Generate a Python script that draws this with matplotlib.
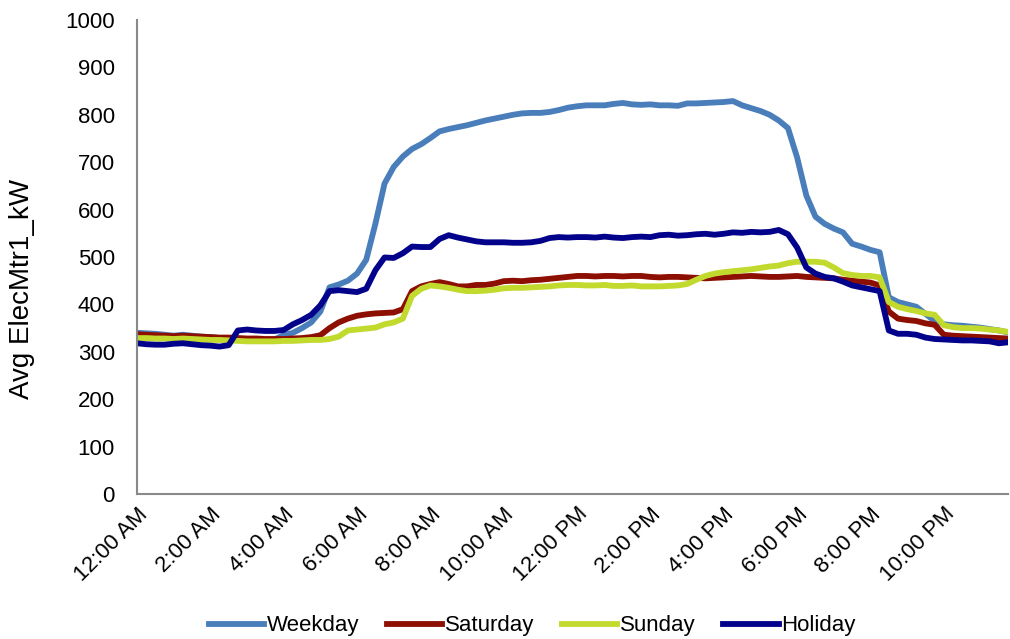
import numpy as np
import matplotlib
matplotlib.use("Agg")
import matplotlib.pyplot as plt

plt.rcParams['font.family'] = ['Liberation Sans', 'DejaVu Sans']

# 15-minute profile, 96 points per day
hours = np.arange(96) / 4.0

weekday = [340, 339, 338, 336, 334, 336, 334, 332, 331, 329, 328, 327,
           326, 325, 325, 326, 335, 340, 350, 362, 385, 436, 442, 450,
           465, 494, 570, 655, 690, 712, 728, 738, 751, 765, 770, 774,
           778, 783, 788, 792, 796, 800, 803, 804, 804, 806, 810, 815,
           818, 820, 820, 820, 823, 825, 822, 821, 822, 820, 820, 819,
           824, 824, 825, 826, 827, 829, 820, 814, 808, 800, 788, 772,
           710, 630, 585, 570, 560, 552, 528, 522, 515, 510, 415, 405,
           400, 395, 380, 365, 358, 356, 355, 353, 351, 348, 345, 341]

saturday = [337, 336, 335, 334, 333, 334, 333, 332, 331, 330, 330, 329,
            328, 328, 327, 327, 327, 328, 329, 331, 335, 350, 362, 370,
            376, 379, 381, 382, 383, 390, 428, 438, 443, 447, 443, 438,
            438, 441, 441, 444, 449, 450, 449, 451, 452, 454, 456, 458,
            460, 460, 459, 460, 460, 459, 460, 460, 458, 457, 458, 458,
            457, 456, 455, 456, 457, 458, 459, 460, 459, 458, 458, 459,
            460, 458, 457, 456, 455, 452, 450, 448, 446, 440, 385, 370,
            367, 365, 360, 357, 336, 334, 333, 332, 331, 330, 329, 328]

sunday = [329, 329, 328, 328, 327, 328, 327, 326, 325, 325, 324, 323,
          322, 322, 322, 322, 323, 323, 324, 325, 325, 327, 332, 345,
          347, 349, 351, 358, 362, 370, 418, 433, 440, 438, 435, 431,
          428, 428, 429, 431, 434, 435, 435, 436, 437, 438, 440, 441,
          441, 440, 440, 441, 439, 439, 440, 438, 438, 438, 439, 440,
          443, 452, 460, 465, 468, 470, 472, 474, 477, 480, 482, 487,
          490, 490, 490, 488, 478, 466, 462, 460, 460, 457, 405, 395,
          390, 386, 381, 378, 356, 352, 350, 350, 349, 347, 345, 342]

holiday = [318, 316, 315, 315, 317, 318, 316, 314, 313, 311, 314, 345,
           347, 345, 344, 344, 346, 358, 367, 378, 398, 428, 430, 428,
           426, 433, 472, 499, 498, 508, 522, 521, 521, 538, 546, 541,
           537, 533, 531, 531, 531, 530, 530, 531, 534, 540, 542, 541,
           542, 542, 541, 543, 541, 540, 542, 543, 542, 546, 547, 545,
           546, 548, 549, 547, 549, 552, 551, 553, 552, 553, 557, 548,
           520, 478, 465, 458, 455, 448, 440, 436, 432, 428, 345, 338,
           338, 336, 330, 327, 326, 325, 324, 324, 323, 322, 318, 320]

tick_hours = [0, 2, 4, 6, 8, 10, 12, 14, 16, 18, 20, 22]
tick_labels = ['12:00 AM', '2:00 AM', '4:00 AM', '6:00 AM', '8:00 AM', '10:00 AM',
               '12:00 PM', '2:00 PM', '4:00 PM', '6:00 PM', '8:00 PM', '10:00 PM']

series = [('Weekday', weekday, '#4A7EBB'),
          ('Saturday', saturday, '#8C0F02'),
          ('Sunday', sunday, '#C2D92E'),
          ('Holiday', holiday, '#02028A')]

fig = plt.figure(figsize=(10.1, 6.39), dpi=100)
ax = fig.add_axes([137 / 1010, 145 / 639, 871 / 1010, 474 / 639])

for name, vals, col in series:
    ax.plot(hours, vals, color=col, lw=4.2, label=name, solid_joinstyle='round')

ax.set_xlim(0, 23.75)
ax.set_ylim(0, 1000)
ax.set_yticks(np.arange(0, 1001, 100))
ax.set_xticks(tick_hours)
ax.set_xticklabels(tick_labels, rotation=45, ha='right', va='top', rotation_mode='anchor')

ax.tick_params(axis='both', length=0, labelsize=16, colors='black')
ax.tick_params(axis='y', pad=16)
ax.tick_params(axis='x', pad=7)

for s in ['top', 'right']:
    ax.spines[s].set_visible(False)
for s in ['left', 'bottom']:
    ax.spines[s].set_color('#898989')
    ax.spines[s].set_linewidth(1.5)

ax.set_ylabel('Avg ElecMtr1_kW', fontsize=20)
ax.yaxis.set_label_coords(-0.117, 0.432)

fig.legend(loc='center', bbox_to_anchor=(532 / 1010, 13 / 639), ncol=4, frameon=False,
           fontsize=16, handlelength=2.5, handletextpad=0.1, columnspacing=1.25)

fig.savefig('out.png', dpi=100)
